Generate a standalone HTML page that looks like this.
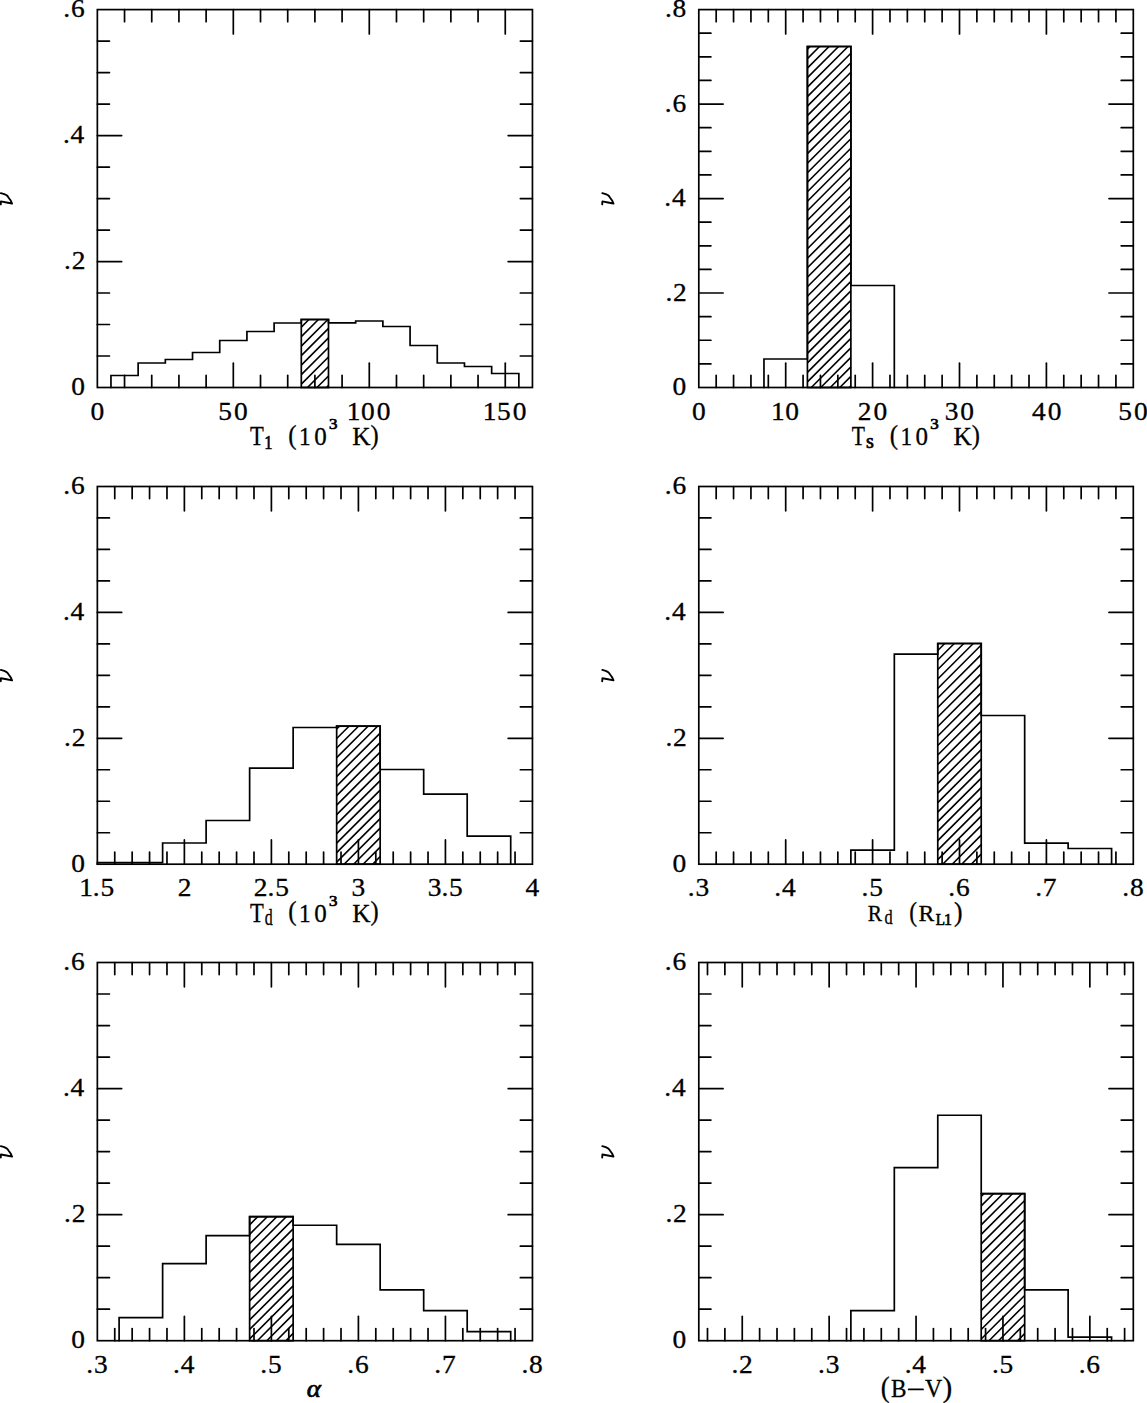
<!DOCTYPE html>
<html><head><meta charset="utf-8"><style>
html,body{margin:0;padding:0;background:#fff;overflow:hidden;width:1147px;height:1403px;}
svg{display:block;}
text{font-family:"Liberation Serif",serif;fill:#000;}
</style></head><body>
<svg width="1147" height="1403" viewBox="0 0 1147 1403">
<rect width="1147" height="1403" fill="#fff"/>
<g stroke="#000" fill="#000" stroke-linecap="round">
<line x1="124.54" y1="387.50" x2="124.54" y2="375.40" stroke-width="1.7"/>
<line x1="124.54" y1="9.60" x2="124.54" y2="21.70" stroke-width="1.7"/>
<line x1="151.74" y1="387.50" x2="151.74" y2="375.40" stroke-width="1.7"/>
<line x1="151.74" y1="9.60" x2="151.74" y2="21.70" stroke-width="1.7"/>
<line x1="178.93" y1="387.50" x2="178.93" y2="375.40" stroke-width="1.7"/>
<line x1="178.93" y1="9.60" x2="178.93" y2="21.70" stroke-width="1.7"/>
<line x1="206.12" y1="387.50" x2="206.12" y2="375.40" stroke-width="1.7"/>
<line x1="206.12" y1="9.60" x2="206.12" y2="21.70" stroke-width="1.7"/>
<line x1="233.32" y1="387.50" x2="233.32" y2="363.20" stroke-width="1.7"/>
<line x1="233.32" y1="9.60" x2="233.32" y2="33.90" stroke-width="1.7"/>
<line x1="260.51" y1="387.50" x2="260.51" y2="375.40" stroke-width="1.7"/>
<line x1="260.51" y1="9.60" x2="260.51" y2="21.70" stroke-width="1.7"/>
<line x1="287.71" y1="387.50" x2="287.71" y2="375.40" stroke-width="1.7"/>
<line x1="287.71" y1="9.60" x2="287.71" y2="21.70" stroke-width="1.7"/>
<line x1="314.90" y1="387.50" x2="314.90" y2="375.40" stroke-width="1.7"/>
<line x1="314.90" y1="9.60" x2="314.90" y2="21.70" stroke-width="1.7"/>
<line x1="342.09" y1="387.50" x2="342.09" y2="375.40" stroke-width="1.7"/>
<line x1="342.09" y1="9.60" x2="342.09" y2="21.70" stroke-width="1.7"/>
<line x1="369.29" y1="387.50" x2="369.29" y2="363.20" stroke-width="1.7"/>
<line x1="369.29" y1="9.60" x2="369.29" y2="33.90" stroke-width="1.7"/>
<line x1="396.48" y1="387.50" x2="396.48" y2="375.40" stroke-width="1.7"/>
<line x1="396.48" y1="9.60" x2="396.48" y2="21.70" stroke-width="1.7"/>
<line x1="423.68" y1="387.50" x2="423.68" y2="375.40" stroke-width="1.7"/>
<line x1="423.68" y1="9.60" x2="423.68" y2="21.70" stroke-width="1.7"/>
<line x1="450.87" y1="387.50" x2="450.87" y2="375.40" stroke-width="1.7"/>
<line x1="450.87" y1="9.60" x2="450.87" y2="21.70" stroke-width="1.7"/>
<line x1="478.06" y1="387.50" x2="478.06" y2="375.40" stroke-width="1.7"/>
<line x1="478.06" y1="9.60" x2="478.06" y2="21.70" stroke-width="1.7"/>
<line x1="505.26" y1="387.50" x2="505.26" y2="363.20" stroke-width="1.7"/>
<line x1="505.26" y1="9.60" x2="505.26" y2="33.90" stroke-width="1.7"/>
<line x1="97.35" y1="356.01" x2="109.45" y2="356.01" stroke-width="1.7"/>
<line x1="532.45" y1="356.01" x2="520.35" y2="356.01" stroke-width="1.7"/>
<line x1="97.35" y1="324.52" x2="109.45" y2="324.52" stroke-width="1.7"/>
<line x1="532.45" y1="324.52" x2="520.35" y2="324.52" stroke-width="1.7"/>
<line x1="97.35" y1="293.02" x2="109.45" y2="293.02" stroke-width="1.7"/>
<line x1="532.45" y1="293.02" x2="520.35" y2="293.02" stroke-width="1.7"/>
<line x1="97.35" y1="261.53" x2="121.65" y2="261.53" stroke-width="1.7"/>
<line x1="532.45" y1="261.53" x2="508.15" y2="261.53" stroke-width="1.7"/>
<line x1="97.35" y1="230.04" x2="109.45" y2="230.04" stroke-width="1.7"/>
<line x1="532.45" y1="230.04" x2="520.35" y2="230.04" stroke-width="1.7"/>
<line x1="97.35" y1="198.55" x2="109.45" y2="198.55" stroke-width="1.7"/>
<line x1="532.45" y1="198.55" x2="520.35" y2="198.55" stroke-width="1.7"/>
<line x1="97.35" y1="167.06" x2="109.45" y2="167.06" stroke-width="1.7"/>
<line x1="532.45" y1="167.06" x2="520.35" y2="167.06" stroke-width="1.7"/>
<line x1="97.35" y1="135.57" x2="121.65" y2="135.57" stroke-width="1.7"/>
<line x1="532.45" y1="135.57" x2="508.15" y2="135.57" stroke-width="1.7"/>
<line x1="97.35" y1="104.08" x2="109.45" y2="104.08" stroke-width="1.7"/>
<line x1="532.45" y1="104.08" x2="520.35" y2="104.08" stroke-width="1.7"/>
<line x1="97.35" y1="72.58" x2="109.45" y2="72.58" stroke-width="1.7"/>
<line x1="532.45" y1="72.58" x2="520.35" y2="72.58" stroke-width="1.7"/>
<line x1="97.35" y1="41.09" x2="109.45" y2="41.09" stroke-width="1.7"/>
<line x1="532.45" y1="41.09" x2="520.35" y2="41.09" stroke-width="1.7"/>
<path d="M110.95,387.50 L110.95,375.50 L138.14,375.50 L138.14,363.00 L165.33,363.00 L165.33,359.50 L192.53,359.50 L192.53,352.50 L219.72,352.50 L219.72,340.50 L246.92,340.50 L246.92,331.50 L274.11,331.50 L274.11,323.00 L301.30,323.00 L301.30,319.50 L328.50,319.50 L328.50,322.95 L355.69,322.95 L355.69,321.00 L382.88,321.00 L382.88,326.50 L410.08,326.50 L410.08,345.50 L437.27,345.50 L437.27,363.00 L464.47,363.00 L464.47,366.50 L491.66,366.50 L491.66,373.50 L518.85,373.50 L518.85,387.50" fill="none" stroke-width="1.7" stroke-linejoin="miter"/>
<path d="M301.30,327.11L308.92,319.50M301.30,336.62L318.42,319.50M301.30,346.12L327.93,319.50M301.30,355.63L328.50,328.44M301.30,365.14L328.50,337.94M301.30,374.64L328.50,347.45M301.30,384.15L328.50,356.96M307.46,387.50L328.50,366.46M316.96,387.50L328.50,375.97M326.47,387.50L328.50,385.47" stroke-width="1.6" stroke-linecap="butt"/>
<rect x="301.30" y="319.50" width="27.19" height="68.00" fill="none" stroke-width="1.7"/>
<rect x="97.35" y="9.60" width="435.10" height="377.90" fill="none" stroke-width="1.7"/>
<text transform="translate(90.49,419.70) scale(1.12,1)" font-size="24.5" stroke-width="0.3">0</text>
<text transform="translate(218.32,419.70) scale(1.12,1)" font-size="24.5" stroke-width="0.3" dx="0.00 1.79">50</text>
<text transform="translate(346.72,419.70) scale(1.12,1)" font-size="24.5" stroke-width="0.3" dx="0.00 0.54 1.79">100</text>
<text transform="translate(482.69,419.70) scale(1.12,1)" font-size="24.5" stroke-width="0.3" dx="0.00 0.54 1.79">150</text>
<text transform="translate(71.17,395.00) scale(1.12,1)" font-size="24.5" stroke-width="0.3">0</text>
<text transform="translate(63.98,269.03) scale(1.12,1)" font-size="24.5" stroke-width="0.3" dx="0.00 0.71">.2</text>
<text transform="translate(62.91,143.07) scale(1.12,1)" font-size="24.5" stroke-width="0.3" dx="0.00 0.71">.4</text>
<text transform="translate(63.29,17.10) scale(1.12,1)" font-size="24.5" stroke-width="0.3" dx="0.00 0.71">.6</text>
<line x1="716.18" y1="387.50" x2="716.18" y2="375.40" stroke-width="1.7"/>
<line x1="716.18" y1="9.60" x2="716.18" y2="21.70" stroke-width="1.7"/>
<line x1="733.56" y1="387.50" x2="733.56" y2="375.40" stroke-width="1.7"/>
<line x1="733.56" y1="9.60" x2="733.56" y2="21.70" stroke-width="1.7"/>
<line x1="750.94" y1="387.50" x2="750.94" y2="375.40" stroke-width="1.7"/>
<line x1="750.94" y1="9.60" x2="750.94" y2="21.70" stroke-width="1.7"/>
<line x1="768.32" y1="387.50" x2="768.32" y2="375.40" stroke-width="1.7"/>
<line x1="768.32" y1="9.60" x2="768.32" y2="21.70" stroke-width="1.7"/>
<line x1="785.70" y1="387.50" x2="785.70" y2="363.20" stroke-width="1.7"/>
<line x1="785.70" y1="9.60" x2="785.70" y2="33.90" stroke-width="1.7"/>
<line x1="803.08" y1="387.50" x2="803.08" y2="375.40" stroke-width="1.7"/>
<line x1="803.08" y1="9.60" x2="803.08" y2="21.70" stroke-width="1.7"/>
<line x1="820.46" y1="387.50" x2="820.46" y2="375.40" stroke-width="1.7"/>
<line x1="820.46" y1="9.60" x2="820.46" y2="21.70" stroke-width="1.7"/>
<line x1="837.84" y1="387.50" x2="837.84" y2="375.40" stroke-width="1.7"/>
<line x1="837.84" y1="9.60" x2="837.84" y2="21.70" stroke-width="1.7"/>
<line x1="855.22" y1="387.50" x2="855.22" y2="375.40" stroke-width="1.7"/>
<line x1="855.22" y1="9.60" x2="855.22" y2="21.70" stroke-width="1.7"/>
<line x1="872.60" y1="387.50" x2="872.60" y2="363.20" stroke-width="1.7"/>
<line x1="872.60" y1="9.60" x2="872.60" y2="33.90" stroke-width="1.7"/>
<line x1="889.98" y1="387.50" x2="889.98" y2="375.40" stroke-width="1.7"/>
<line x1="889.98" y1="9.60" x2="889.98" y2="21.70" stroke-width="1.7"/>
<line x1="907.36" y1="387.50" x2="907.36" y2="375.40" stroke-width="1.7"/>
<line x1="907.36" y1="9.60" x2="907.36" y2="21.70" stroke-width="1.7"/>
<line x1="924.74" y1="387.50" x2="924.74" y2="375.40" stroke-width="1.7"/>
<line x1="924.74" y1="9.60" x2="924.74" y2="21.70" stroke-width="1.7"/>
<line x1="942.12" y1="387.50" x2="942.12" y2="375.40" stroke-width="1.7"/>
<line x1="942.12" y1="9.60" x2="942.12" y2="21.70" stroke-width="1.7"/>
<line x1="959.50" y1="387.50" x2="959.50" y2="363.20" stroke-width="1.7"/>
<line x1="959.50" y1="9.60" x2="959.50" y2="33.90" stroke-width="1.7"/>
<line x1="976.88" y1="387.50" x2="976.88" y2="375.40" stroke-width="1.7"/>
<line x1="976.88" y1="9.60" x2="976.88" y2="21.70" stroke-width="1.7"/>
<line x1="994.26" y1="387.50" x2="994.26" y2="375.40" stroke-width="1.7"/>
<line x1="994.26" y1="9.60" x2="994.26" y2="21.70" stroke-width="1.7"/>
<line x1="1011.64" y1="387.50" x2="1011.64" y2="375.40" stroke-width="1.7"/>
<line x1="1011.64" y1="9.60" x2="1011.64" y2="21.70" stroke-width="1.7"/>
<line x1="1029.02" y1="387.50" x2="1029.02" y2="375.40" stroke-width="1.7"/>
<line x1="1029.02" y1="9.60" x2="1029.02" y2="21.70" stroke-width="1.7"/>
<line x1="1046.40" y1="387.50" x2="1046.40" y2="363.20" stroke-width="1.7"/>
<line x1="1046.40" y1="9.60" x2="1046.40" y2="33.90" stroke-width="1.7"/>
<line x1="1063.78" y1="387.50" x2="1063.78" y2="375.40" stroke-width="1.7"/>
<line x1="1063.78" y1="9.60" x2="1063.78" y2="21.70" stroke-width="1.7"/>
<line x1="1081.16" y1="387.50" x2="1081.16" y2="375.40" stroke-width="1.7"/>
<line x1="1081.16" y1="9.60" x2="1081.16" y2="21.70" stroke-width="1.7"/>
<line x1="1098.54" y1="387.50" x2="1098.54" y2="375.40" stroke-width="1.7"/>
<line x1="1098.54" y1="9.60" x2="1098.54" y2="21.70" stroke-width="1.7"/>
<line x1="1115.92" y1="387.50" x2="1115.92" y2="375.40" stroke-width="1.7"/>
<line x1="1115.92" y1="9.60" x2="1115.92" y2="21.70" stroke-width="1.7"/>
<line x1="698.80" y1="363.88" x2="710.90" y2="363.88" stroke-width="1.7"/>
<line x1="1133.30" y1="363.88" x2="1121.20" y2="363.88" stroke-width="1.7"/>
<line x1="698.80" y1="340.26" x2="710.90" y2="340.26" stroke-width="1.7"/>
<line x1="1133.30" y1="340.26" x2="1121.20" y2="340.26" stroke-width="1.7"/>
<line x1="698.80" y1="316.64" x2="710.90" y2="316.64" stroke-width="1.7"/>
<line x1="1133.30" y1="316.64" x2="1121.20" y2="316.64" stroke-width="1.7"/>
<line x1="698.80" y1="293.02" x2="723.10" y2="293.02" stroke-width="1.7"/>
<line x1="1133.30" y1="293.02" x2="1109.00" y2="293.02" stroke-width="1.7"/>
<line x1="698.80" y1="269.41" x2="710.90" y2="269.41" stroke-width="1.7"/>
<line x1="1133.30" y1="269.41" x2="1121.20" y2="269.41" stroke-width="1.7"/>
<line x1="698.80" y1="245.79" x2="710.90" y2="245.79" stroke-width="1.7"/>
<line x1="1133.30" y1="245.79" x2="1121.20" y2="245.79" stroke-width="1.7"/>
<line x1="698.80" y1="222.17" x2="710.90" y2="222.17" stroke-width="1.7"/>
<line x1="1133.30" y1="222.17" x2="1121.20" y2="222.17" stroke-width="1.7"/>
<line x1="698.80" y1="198.55" x2="723.10" y2="198.55" stroke-width="1.7"/>
<line x1="1133.30" y1="198.55" x2="1109.00" y2="198.55" stroke-width="1.7"/>
<line x1="698.80" y1="174.93" x2="710.90" y2="174.93" stroke-width="1.7"/>
<line x1="1133.30" y1="174.93" x2="1121.20" y2="174.93" stroke-width="1.7"/>
<line x1="698.80" y1="151.31" x2="710.90" y2="151.31" stroke-width="1.7"/>
<line x1="1133.30" y1="151.31" x2="1121.20" y2="151.31" stroke-width="1.7"/>
<line x1="698.80" y1="127.69" x2="710.90" y2="127.69" stroke-width="1.7"/>
<line x1="1133.30" y1="127.69" x2="1121.20" y2="127.69" stroke-width="1.7"/>
<line x1="698.80" y1="104.07" x2="723.10" y2="104.07" stroke-width="1.7"/>
<line x1="1133.30" y1="104.07" x2="1109.00" y2="104.07" stroke-width="1.7"/>
<line x1="698.80" y1="80.46" x2="710.90" y2="80.46" stroke-width="1.7"/>
<line x1="1133.30" y1="80.46" x2="1121.20" y2="80.46" stroke-width="1.7"/>
<line x1="698.80" y1="56.84" x2="710.90" y2="56.84" stroke-width="1.7"/>
<line x1="1133.30" y1="56.84" x2="1121.20" y2="56.84" stroke-width="1.7"/>
<line x1="698.80" y1="33.22" x2="710.90" y2="33.22" stroke-width="1.7"/>
<line x1="1133.30" y1="33.22" x2="1121.20" y2="33.22" stroke-width="1.7"/>
<path d="M763.97,387.50 L763.97,359.00 L807.42,359.00 L807.42,46.50 L850.88,46.50 L850.88,285.50 L894.32,285.50 L894.32,387.50" fill="none" stroke-width="1.7" stroke-linejoin="miter"/>
<path d="M807.42,49.12L810.05,46.50M807.42,58.63L819.56,46.50M807.42,68.14L829.06,46.50M807.42,77.64L838.57,46.50M807.42,87.15L848.07,46.50M807.42,96.66L850.88,53.21M807.42,106.16L850.88,62.71M807.42,115.67L850.88,72.22M807.42,125.17L850.88,81.72M807.42,134.68L850.88,91.23M807.42,144.19L850.88,100.74M807.42,153.69L850.88,110.24M807.42,163.20L850.88,119.75M807.42,172.70L850.88,129.25M807.42,182.21L850.88,138.76M807.42,191.72L850.88,148.26M807.42,201.22L850.88,157.77M807.42,210.73L850.88,167.28M807.42,220.23L850.88,176.78M807.42,229.74L850.88,186.29M807.42,239.25L850.88,195.80M807.42,248.75L850.88,205.30M807.42,258.26L850.88,214.81M807.42,267.76L850.88,224.31M807.42,277.27L850.88,233.82M807.42,286.78L850.88,243.33M807.42,296.28L850.88,252.83M807.42,305.79L850.88,262.34M807.42,315.29L850.88,271.84M807.42,324.80L850.88,281.35M807.42,334.31L850.88,290.86M807.42,343.81L850.88,300.36M807.42,353.32L850.88,309.87M807.42,362.82L850.88,319.37M807.42,372.33L850.88,328.88M807.42,381.84L850.88,338.38M811.27,387.50L850.88,347.89M820.77,387.50L850.88,357.40M830.28,387.50L850.88,366.90M839.78,387.50L850.88,376.41M849.29,387.50L850.88,385.91" stroke-width="1.6" stroke-linecap="butt"/>
<rect x="807.42" y="46.50" width="43.45" height="341.00" fill="none" stroke-width="1.7"/>
<rect x="698.80" y="9.60" width="434.50" height="377.90" fill="none" stroke-width="1.7"/>
<text transform="translate(691.94,419.70) scale(1.12,1)" font-size="24.5" stroke-width="0.3">0</text>
<text transform="translate(770.99,419.70) scale(1.12,1)" font-size="24.5" stroke-width="0.3" dx="0.00 0.54">10</text>
<text transform="translate(857.80,419.70) scale(1.12,1)" font-size="24.5" stroke-width="0.3" dx="0.00 1.79">20</text>
<text transform="translate(944.64,419.70) scale(1.12,1)" font-size="24.5" stroke-width="0.3" dx="0.00 1.79">30</text>
<text transform="translate(1031.93,419.70) scale(1.12,1)" font-size="24.5" stroke-width="0.3" dx="0.00 1.79">40</text>
<text transform="translate(1118.31,419.70) scale(1.12,1)" font-size="24.5" stroke-width="0.3" dx="0.00 1.79">50</text>
<text transform="translate(672.62,395.00) scale(1.12,1)" font-size="24.5" stroke-width="0.3">0</text>
<text transform="translate(665.43,300.52) scale(1.12,1)" font-size="24.5" stroke-width="0.3" dx="0.00 0.71">.2</text>
<text transform="translate(664.36,206.05) scale(1.12,1)" font-size="24.5" stroke-width="0.3" dx="0.00 0.71">.4</text>
<text transform="translate(664.74,111.58) scale(1.12,1)" font-size="24.5" stroke-width="0.3" dx="0.00 0.71">.6</text>
<text transform="translate(664.96,17.10) scale(1.12,1)" font-size="24.5" stroke-width="0.3" dx="0.00 0.71">.8</text>
<line x1="114.75" y1="864.20" x2="114.75" y2="852.10" stroke-width="1.7"/>
<line x1="114.75" y1="486.50" x2="114.75" y2="498.60" stroke-width="1.7"/>
<line x1="132.16" y1="864.20" x2="132.16" y2="852.10" stroke-width="1.7"/>
<line x1="132.16" y1="486.50" x2="132.16" y2="498.60" stroke-width="1.7"/>
<line x1="149.56" y1="864.20" x2="149.56" y2="852.10" stroke-width="1.7"/>
<line x1="149.56" y1="486.50" x2="149.56" y2="498.60" stroke-width="1.7"/>
<line x1="166.97" y1="864.20" x2="166.97" y2="852.10" stroke-width="1.7"/>
<line x1="166.97" y1="486.50" x2="166.97" y2="498.60" stroke-width="1.7"/>
<line x1="184.37" y1="864.20" x2="184.37" y2="839.90" stroke-width="1.7"/>
<line x1="184.37" y1="486.50" x2="184.37" y2="510.80" stroke-width="1.7"/>
<line x1="201.77" y1="864.20" x2="201.77" y2="852.10" stroke-width="1.7"/>
<line x1="201.77" y1="486.50" x2="201.77" y2="498.60" stroke-width="1.7"/>
<line x1="219.18" y1="864.20" x2="219.18" y2="852.10" stroke-width="1.7"/>
<line x1="219.18" y1="486.50" x2="219.18" y2="498.60" stroke-width="1.7"/>
<line x1="236.58" y1="864.20" x2="236.58" y2="852.10" stroke-width="1.7"/>
<line x1="236.58" y1="486.50" x2="236.58" y2="498.60" stroke-width="1.7"/>
<line x1="253.99" y1="864.20" x2="253.99" y2="852.10" stroke-width="1.7"/>
<line x1="253.99" y1="486.50" x2="253.99" y2="498.60" stroke-width="1.7"/>
<line x1="271.39" y1="864.20" x2="271.39" y2="839.90" stroke-width="1.7"/>
<line x1="271.39" y1="486.50" x2="271.39" y2="510.80" stroke-width="1.7"/>
<line x1="288.79" y1="864.20" x2="288.79" y2="852.10" stroke-width="1.7"/>
<line x1="288.79" y1="486.50" x2="288.79" y2="498.60" stroke-width="1.7"/>
<line x1="306.20" y1="864.20" x2="306.20" y2="852.10" stroke-width="1.7"/>
<line x1="306.20" y1="486.50" x2="306.20" y2="498.60" stroke-width="1.7"/>
<line x1="323.60" y1="864.20" x2="323.60" y2="852.10" stroke-width="1.7"/>
<line x1="323.60" y1="486.50" x2="323.60" y2="498.60" stroke-width="1.7"/>
<line x1="341.01" y1="864.20" x2="341.01" y2="852.10" stroke-width="1.7"/>
<line x1="341.01" y1="486.50" x2="341.01" y2="498.60" stroke-width="1.7"/>
<line x1="358.41" y1="864.20" x2="358.41" y2="839.90" stroke-width="1.7"/>
<line x1="358.41" y1="486.50" x2="358.41" y2="510.80" stroke-width="1.7"/>
<line x1="375.81" y1="864.20" x2="375.81" y2="852.10" stroke-width="1.7"/>
<line x1="375.81" y1="486.50" x2="375.81" y2="498.60" stroke-width="1.7"/>
<line x1="393.22" y1="864.20" x2="393.22" y2="852.10" stroke-width="1.7"/>
<line x1="393.22" y1="486.50" x2="393.22" y2="498.60" stroke-width="1.7"/>
<line x1="410.62" y1="864.20" x2="410.62" y2="852.10" stroke-width="1.7"/>
<line x1="410.62" y1="486.50" x2="410.62" y2="498.60" stroke-width="1.7"/>
<line x1="428.03" y1="864.20" x2="428.03" y2="852.10" stroke-width="1.7"/>
<line x1="428.03" y1="486.50" x2="428.03" y2="498.60" stroke-width="1.7"/>
<line x1="445.43" y1="864.20" x2="445.43" y2="839.90" stroke-width="1.7"/>
<line x1="445.43" y1="486.50" x2="445.43" y2="510.80" stroke-width="1.7"/>
<line x1="462.83" y1="864.20" x2="462.83" y2="852.10" stroke-width="1.7"/>
<line x1="462.83" y1="486.50" x2="462.83" y2="498.60" stroke-width="1.7"/>
<line x1="480.24" y1="864.20" x2="480.24" y2="852.10" stroke-width="1.7"/>
<line x1="480.24" y1="486.50" x2="480.24" y2="498.60" stroke-width="1.7"/>
<line x1="497.64" y1="864.20" x2="497.64" y2="852.10" stroke-width="1.7"/>
<line x1="497.64" y1="486.50" x2="497.64" y2="498.60" stroke-width="1.7"/>
<line x1="515.05" y1="864.20" x2="515.05" y2="852.10" stroke-width="1.7"/>
<line x1="515.05" y1="486.50" x2="515.05" y2="498.60" stroke-width="1.7"/>
<line x1="97.35" y1="832.73" x2="109.45" y2="832.73" stroke-width="1.7"/>
<line x1="532.45" y1="832.73" x2="520.35" y2="832.73" stroke-width="1.7"/>
<line x1="97.35" y1="801.25" x2="109.45" y2="801.25" stroke-width="1.7"/>
<line x1="532.45" y1="801.25" x2="520.35" y2="801.25" stroke-width="1.7"/>
<line x1="97.35" y1="769.77" x2="109.45" y2="769.77" stroke-width="1.7"/>
<line x1="532.45" y1="769.77" x2="520.35" y2="769.77" stroke-width="1.7"/>
<line x1="97.35" y1="738.30" x2="121.65" y2="738.30" stroke-width="1.7"/>
<line x1="532.45" y1="738.30" x2="508.15" y2="738.30" stroke-width="1.7"/>
<line x1="97.35" y1="706.83" x2="109.45" y2="706.83" stroke-width="1.7"/>
<line x1="532.45" y1="706.83" x2="520.35" y2="706.83" stroke-width="1.7"/>
<line x1="97.35" y1="675.35" x2="109.45" y2="675.35" stroke-width="1.7"/>
<line x1="532.45" y1="675.35" x2="520.35" y2="675.35" stroke-width="1.7"/>
<line x1="97.35" y1="643.88" x2="109.45" y2="643.88" stroke-width="1.7"/>
<line x1="532.45" y1="643.88" x2="520.35" y2="643.88" stroke-width="1.7"/>
<line x1="97.35" y1="612.40" x2="121.65" y2="612.40" stroke-width="1.7"/>
<line x1="532.45" y1="612.40" x2="508.15" y2="612.40" stroke-width="1.7"/>
<line x1="97.35" y1="580.92" x2="109.45" y2="580.92" stroke-width="1.7"/>
<line x1="532.45" y1="580.92" x2="520.35" y2="580.92" stroke-width="1.7"/>
<line x1="97.35" y1="549.45" x2="109.45" y2="549.45" stroke-width="1.7"/>
<line x1="532.45" y1="549.45" x2="520.35" y2="549.45" stroke-width="1.7"/>
<line x1="97.35" y1="517.97" x2="109.45" y2="517.97" stroke-width="1.7"/>
<line x1="532.45" y1="517.97" x2="520.35" y2="517.97" stroke-width="1.7"/>
<path d="M97.35,864.20 L97.35,862.65 L162.62,862.65 L162.62,843.00 L206.12,843.00 L206.12,820.50 L249.63,820.50 L249.63,768.10 L293.14,768.10 L293.14,727.50 L336.66,727.50 L336.66,726.20 L380.16,726.20 L380.16,769.50 L423.68,769.50 L423.68,794.10 L467.19,794.10 L467.19,836.20 L510.70,836.20 L510.70,864.20" fill="none" stroke-width="1.7" stroke-linejoin="miter"/>
<path d="M336.66,729.04L339.49,726.20M336.66,738.54L349.00,726.20M336.66,748.05L358.50,726.20M336.66,757.56L368.01,726.20M336.66,767.06L377.52,726.20M336.66,776.57L380.16,733.06M336.66,786.07L380.16,742.56M336.66,795.58L380.16,752.07M336.66,805.09L380.16,761.58M336.66,814.59L380.16,771.08M336.66,824.10L380.16,780.59M336.66,833.60L380.16,790.09M336.66,843.11L380.16,799.60M336.66,852.62L380.16,809.11M336.66,862.12L380.16,818.61M344.08,864.20L380.16,828.12M353.59,864.20L380.16,837.62M363.09,864.20L380.16,847.13M372.60,864.20L380.16,856.63" stroke-width="1.6" stroke-linecap="butt"/>
<rect x="336.66" y="726.20" width="43.51" height="138.00" fill="none" stroke-width="1.7"/>
<rect x="97.35" y="486.50" width="435.10" height="377.70" fill="none" stroke-width="1.7"/>
<text transform="translate(79.13,896.40) scale(1.12,1)" font-size="24.5" stroke-width="0.3" dx="0.00 0.00 0.71">1.5</text>
<text transform="translate(177.66,896.40) scale(1.12,1)" font-size="24.5" stroke-width="0.3">2</text>
<text transform="translate(253.77,896.40) scale(1.12,1)" font-size="24.5" stroke-width="0.3" dx="0.00 0.00 0.71">2.5</text>
<text transform="translate(351.43,896.40) scale(1.12,1)" font-size="24.5" stroke-width="0.3">3</text>
<text transform="translate(427.76,896.40) scale(1.12,1)" font-size="24.5" stroke-width="0.3" dx="0.00 0.00 0.71">3.5</text>
<text transform="translate(525.54,896.40) scale(1.12,1)" font-size="24.5" stroke-width="0.3">4</text>
<text transform="translate(71.17,871.70) scale(1.12,1)" font-size="24.5" stroke-width="0.3">0</text>
<text transform="translate(63.98,745.80) scale(1.12,1)" font-size="24.5" stroke-width="0.3" dx="0.00 0.71">.2</text>
<text transform="translate(62.91,619.90) scale(1.12,1)" font-size="24.5" stroke-width="0.3" dx="0.00 0.71">.4</text>
<text transform="translate(63.29,494.00) scale(1.12,1)" font-size="24.5" stroke-width="0.3" dx="0.00 0.71">.6</text>
<line x1="716.18" y1="864.20" x2="716.18" y2="852.10" stroke-width="1.7"/>
<line x1="716.18" y1="486.50" x2="716.18" y2="498.60" stroke-width="1.7"/>
<line x1="733.56" y1="864.20" x2="733.56" y2="852.10" stroke-width="1.7"/>
<line x1="733.56" y1="486.50" x2="733.56" y2="498.60" stroke-width="1.7"/>
<line x1="750.94" y1="864.20" x2="750.94" y2="852.10" stroke-width="1.7"/>
<line x1="750.94" y1="486.50" x2="750.94" y2="498.60" stroke-width="1.7"/>
<line x1="768.32" y1="864.20" x2="768.32" y2="852.10" stroke-width="1.7"/>
<line x1="768.32" y1="486.50" x2="768.32" y2="498.60" stroke-width="1.7"/>
<line x1="785.70" y1="864.20" x2="785.70" y2="839.90" stroke-width="1.7"/>
<line x1="785.70" y1="486.50" x2="785.70" y2="510.80" stroke-width="1.7"/>
<line x1="803.08" y1="864.20" x2="803.08" y2="852.10" stroke-width="1.7"/>
<line x1="803.08" y1="486.50" x2="803.08" y2="498.60" stroke-width="1.7"/>
<line x1="820.46" y1="864.20" x2="820.46" y2="852.10" stroke-width="1.7"/>
<line x1="820.46" y1="486.50" x2="820.46" y2="498.60" stroke-width="1.7"/>
<line x1="837.84" y1="864.20" x2="837.84" y2="852.10" stroke-width="1.7"/>
<line x1="837.84" y1="486.50" x2="837.84" y2="498.60" stroke-width="1.7"/>
<line x1="855.22" y1="864.20" x2="855.22" y2="852.10" stroke-width="1.7"/>
<line x1="855.22" y1="486.50" x2="855.22" y2="498.60" stroke-width="1.7"/>
<line x1="872.60" y1="864.20" x2="872.60" y2="839.90" stroke-width="1.7"/>
<line x1="872.60" y1="486.50" x2="872.60" y2="510.80" stroke-width="1.7"/>
<line x1="889.98" y1="864.20" x2="889.98" y2="852.10" stroke-width="1.7"/>
<line x1="889.98" y1="486.50" x2="889.98" y2="498.60" stroke-width="1.7"/>
<line x1="907.36" y1="864.20" x2="907.36" y2="852.10" stroke-width="1.7"/>
<line x1="907.36" y1="486.50" x2="907.36" y2="498.60" stroke-width="1.7"/>
<line x1="924.74" y1="864.20" x2="924.74" y2="852.10" stroke-width="1.7"/>
<line x1="924.74" y1="486.50" x2="924.74" y2="498.60" stroke-width="1.7"/>
<line x1="942.12" y1="864.20" x2="942.12" y2="852.10" stroke-width="1.7"/>
<line x1="942.12" y1="486.50" x2="942.12" y2="498.60" stroke-width="1.7"/>
<line x1="959.50" y1="864.20" x2="959.50" y2="839.90" stroke-width="1.7"/>
<line x1="959.50" y1="486.50" x2="959.50" y2="510.80" stroke-width="1.7"/>
<line x1="976.88" y1="864.20" x2="976.88" y2="852.10" stroke-width="1.7"/>
<line x1="976.88" y1="486.50" x2="976.88" y2="498.60" stroke-width="1.7"/>
<line x1="994.26" y1="864.20" x2="994.26" y2="852.10" stroke-width="1.7"/>
<line x1="994.26" y1="486.50" x2="994.26" y2="498.60" stroke-width="1.7"/>
<line x1="1011.64" y1="864.20" x2="1011.64" y2="852.10" stroke-width="1.7"/>
<line x1="1011.64" y1="486.50" x2="1011.64" y2="498.60" stroke-width="1.7"/>
<line x1="1029.02" y1="864.20" x2="1029.02" y2="852.10" stroke-width="1.7"/>
<line x1="1029.02" y1="486.50" x2="1029.02" y2="498.60" stroke-width="1.7"/>
<line x1="1046.40" y1="864.20" x2="1046.40" y2="839.90" stroke-width="1.7"/>
<line x1="1046.40" y1="486.50" x2="1046.40" y2="510.80" stroke-width="1.7"/>
<line x1="1063.78" y1="864.20" x2="1063.78" y2="852.10" stroke-width="1.7"/>
<line x1="1063.78" y1="486.50" x2="1063.78" y2="498.60" stroke-width="1.7"/>
<line x1="1081.16" y1="864.20" x2="1081.16" y2="852.10" stroke-width="1.7"/>
<line x1="1081.16" y1="486.50" x2="1081.16" y2="498.60" stroke-width="1.7"/>
<line x1="1098.54" y1="864.20" x2="1098.54" y2="852.10" stroke-width="1.7"/>
<line x1="1098.54" y1="486.50" x2="1098.54" y2="498.60" stroke-width="1.7"/>
<line x1="1115.92" y1="864.20" x2="1115.92" y2="852.10" stroke-width="1.7"/>
<line x1="1115.92" y1="486.50" x2="1115.92" y2="498.60" stroke-width="1.7"/>
<line x1="698.80" y1="832.73" x2="710.90" y2="832.73" stroke-width="1.7"/>
<line x1="1133.30" y1="832.73" x2="1121.20" y2="832.73" stroke-width="1.7"/>
<line x1="698.80" y1="801.25" x2="710.90" y2="801.25" stroke-width="1.7"/>
<line x1="1133.30" y1="801.25" x2="1121.20" y2="801.25" stroke-width="1.7"/>
<line x1="698.80" y1="769.77" x2="710.90" y2="769.77" stroke-width="1.7"/>
<line x1="1133.30" y1="769.77" x2="1121.20" y2="769.77" stroke-width="1.7"/>
<line x1="698.80" y1="738.30" x2="723.10" y2="738.30" stroke-width="1.7"/>
<line x1="1133.30" y1="738.30" x2="1109.00" y2="738.30" stroke-width="1.7"/>
<line x1="698.80" y1="706.83" x2="710.90" y2="706.83" stroke-width="1.7"/>
<line x1="1133.30" y1="706.83" x2="1121.20" y2="706.83" stroke-width="1.7"/>
<line x1="698.80" y1="675.35" x2="710.90" y2="675.35" stroke-width="1.7"/>
<line x1="1133.30" y1="675.35" x2="1121.20" y2="675.35" stroke-width="1.7"/>
<line x1="698.80" y1="643.88" x2="710.90" y2="643.88" stroke-width="1.7"/>
<line x1="1133.30" y1="643.88" x2="1121.20" y2="643.88" stroke-width="1.7"/>
<line x1="698.80" y1="612.40" x2="723.10" y2="612.40" stroke-width="1.7"/>
<line x1="1133.30" y1="612.40" x2="1109.00" y2="612.40" stroke-width="1.7"/>
<line x1="698.80" y1="580.92" x2="710.90" y2="580.92" stroke-width="1.7"/>
<line x1="1133.30" y1="580.92" x2="1121.20" y2="580.92" stroke-width="1.7"/>
<line x1="698.80" y1="549.45" x2="710.90" y2="549.45" stroke-width="1.7"/>
<line x1="1133.30" y1="549.45" x2="1121.20" y2="549.45" stroke-width="1.7"/>
<line x1="698.80" y1="517.97" x2="710.90" y2="517.97" stroke-width="1.7"/>
<line x1="1133.30" y1="517.97" x2="1121.20" y2="517.97" stroke-width="1.7"/>
<path d="M850.88,864.20 L850.88,850.10 L894.33,850.10 L894.33,654.10 L937.77,654.10 L937.77,643.50 L981.22,643.50 L981.22,715.50 L1024.67,715.50 L1024.67,843.10 L1068.12,843.10 L1068.12,848.50 L1111.58,848.50 L1111.58,864.20" fill="none" stroke-width="1.7" stroke-linejoin="miter"/>
<path d="M937.77,650.48L944.75,643.50M937.77,659.98L954.26,643.50M937.77,669.49L963.76,643.50M937.77,679.00L973.27,643.50M937.77,688.50L981.22,645.05M937.77,698.01L981.22,654.56M937.77,707.51L981.22,664.06M937.77,717.02L981.22,673.57M937.77,726.53L981.22,683.08M937.77,736.03L981.22,692.58M937.77,745.54L981.22,702.09M937.77,755.04L981.22,711.59M937.77,764.55L981.22,721.10M937.77,774.06L981.22,730.61M937.77,783.56L981.22,740.11M937.77,793.07L981.22,749.62M937.77,802.57L981.22,759.12M937.77,812.08L981.22,768.63M937.77,821.59L981.22,778.14M937.77,831.09L981.22,787.64M937.77,840.60L981.22,797.15M937.77,850.10L981.22,806.65M937.77,859.61L981.22,816.16M942.69,864.20L981.22,825.67M952.20,864.20L981.22,835.17M961.70,864.20L981.22,844.68M971.21,864.20L981.22,854.18M980.71,864.20L981.22,863.69" stroke-width="1.6" stroke-linecap="butt"/>
<rect x="937.77" y="643.50" width="43.45" height="220.70" fill="none" stroke-width="1.7"/>
<rect x="698.80" y="486.50" width="434.50" height="377.70" fill="none" stroke-width="1.7"/>
<text transform="translate(687.74,896.40) scale(1.12,1)" font-size="24.5" stroke-width="0.3" dx="0.00 0.71">.3</text>
<text transform="translate(774.32,896.40) scale(1.12,1)" font-size="24.5" stroke-width="0.3" dx="0.00 0.71">.4</text>
<text transform="translate(861.54,896.40) scale(1.12,1)" font-size="24.5" stroke-width="0.3" dx="0.00 0.71">.5</text>
<text transform="translate(948.32,896.40) scale(1.12,1)" font-size="24.5" stroke-width="0.3" dx="0.00 0.71">.6</text>
<text transform="translate(1035.20,896.40) scale(1.12,1)" font-size="24.5" stroke-width="0.3" dx="0.00 0.71">.7</text>
<text transform="translate(1122.23,896.40) scale(1.12,1)" font-size="24.5" stroke-width="0.3" dx="0.00 0.71">.8</text>
<text transform="translate(672.62,871.70) scale(1.12,1)" font-size="24.5" stroke-width="0.3">0</text>
<text transform="translate(665.43,745.80) scale(1.12,1)" font-size="24.5" stroke-width="0.3" dx="0.00 0.71">.2</text>
<text transform="translate(664.36,619.90) scale(1.12,1)" font-size="24.5" stroke-width="0.3" dx="0.00 0.71">.4</text>
<text transform="translate(664.74,494.00) scale(1.12,1)" font-size="24.5" stroke-width="0.3" dx="0.00 0.71">.6</text>
<line x1="114.75" y1="1340.70" x2="114.75" y2="1328.60" stroke-width="1.7"/>
<line x1="114.75" y1="962.50" x2="114.75" y2="974.60" stroke-width="1.7"/>
<line x1="132.16" y1="1340.70" x2="132.16" y2="1328.60" stroke-width="1.7"/>
<line x1="132.16" y1="962.50" x2="132.16" y2="974.60" stroke-width="1.7"/>
<line x1="149.56" y1="1340.70" x2="149.56" y2="1328.60" stroke-width="1.7"/>
<line x1="149.56" y1="962.50" x2="149.56" y2="974.60" stroke-width="1.7"/>
<line x1="166.97" y1="1340.70" x2="166.97" y2="1328.60" stroke-width="1.7"/>
<line x1="166.97" y1="962.50" x2="166.97" y2="974.60" stroke-width="1.7"/>
<line x1="184.37" y1="1340.70" x2="184.37" y2="1316.40" stroke-width="1.7"/>
<line x1="184.37" y1="962.50" x2="184.37" y2="986.80" stroke-width="1.7"/>
<line x1="201.77" y1="1340.70" x2="201.77" y2="1328.60" stroke-width="1.7"/>
<line x1="201.77" y1="962.50" x2="201.77" y2="974.60" stroke-width="1.7"/>
<line x1="219.18" y1="1340.70" x2="219.18" y2="1328.60" stroke-width="1.7"/>
<line x1="219.18" y1="962.50" x2="219.18" y2="974.60" stroke-width="1.7"/>
<line x1="236.58" y1="1340.70" x2="236.58" y2="1328.60" stroke-width="1.7"/>
<line x1="236.58" y1="962.50" x2="236.58" y2="974.60" stroke-width="1.7"/>
<line x1="253.99" y1="1340.70" x2="253.99" y2="1328.60" stroke-width="1.7"/>
<line x1="253.99" y1="962.50" x2="253.99" y2="974.60" stroke-width="1.7"/>
<line x1="271.39" y1="1340.70" x2="271.39" y2="1316.40" stroke-width="1.7"/>
<line x1="271.39" y1="962.50" x2="271.39" y2="986.80" stroke-width="1.7"/>
<line x1="288.79" y1="1340.70" x2="288.79" y2="1328.60" stroke-width="1.7"/>
<line x1="288.79" y1="962.50" x2="288.79" y2="974.60" stroke-width="1.7"/>
<line x1="306.20" y1="1340.70" x2="306.20" y2="1328.60" stroke-width="1.7"/>
<line x1="306.20" y1="962.50" x2="306.20" y2="974.60" stroke-width="1.7"/>
<line x1="323.60" y1="1340.70" x2="323.60" y2="1328.60" stroke-width="1.7"/>
<line x1="323.60" y1="962.50" x2="323.60" y2="974.60" stroke-width="1.7"/>
<line x1="341.01" y1="1340.70" x2="341.01" y2="1328.60" stroke-width="1.7"/>
<line x1="341.01" y1="962.50" x2="341.01" y2="974.60" stroke-width="1.7"/>
<line x1="358.41" y1="1340.70" x2="358.41" y2="1316.40" stroke-width="1.7"/>
<line x1="358.41" y1="962.50" x2="358.41" y2="986.80" stroke-width="1.7"/>
<line x1="375.81" y1="1340.70" x2="375.81" y2="1328.60" stroke-width="1.7"/>
<line x1="375.81" y1="962.50" x2="375.81" y2="974.60" stroke-width="1.7"/>
<line x1="393.22" y1="1340.70" x2="393.22" y2="1328.60" stroke-width="1.7"/>
<line x1="393.22" y1="962.50" x2="393.22" y2="974.60" stroke-width="1.7"/>
<line x1="410.62" y1="1340.70" x2="410.62" y2="1328.60" stroke-width="1.7"/>
<line x1="410.62" y1="962.50" x2="410.62" y2="974.60" stroke-width="1.7"/>
<line x1="428.03" y1="1340.70" x2="428.03" y2="1328.60" stroke-width="1.7"/>
<line x1="428.03" y1="962.50" x2="428.03" y2="974.60" stroke-width="1.7"/>
<line x1="445.43" y1="1340.70" x2="445.43" y2="1316.40" stroke-width="1.7"/>
<line x1="445.43" y1="962.50" x2="445.43" y2="986.80" stroke-width="1.7"/>
<line x1="462.83" y1="1340.70" x2="462.83" y2="1328.60" stroke-width="1.7"/>
<line x1="462.83" y1="962.50" x2="462.83" y2="974.60" stroke-width="1.7"/>
<line x1="480.24" y1="1340.70" x2="480.24" y2="1328.60" stroke-width="1.7"/>
<line x1="480.24" y1="962.50" x2="480.24" y2="974.60" stroke-width="1.7"/>
<line x1="497.64" y1="1340.70" x2="497.64" y2="1328.60" stroke-width="1.7"/>
<line x1="497.64" y1="962.50" x2="497.64" y2="974.60" stroke-width="1.7"/>
<line x1="515.05" y1="1340.70" x2="515.05" y2="1328.60" stroke-width="1.7"/>
<line x1="515.05" y1="962.50" x2="515.05" y2="974.60" stroke-width="1.7"/>
<line x1="97.35" y1="1309.18" x2="109.45" y2="1309.18" stroke-width="1.7"/>
<line x1="532.45" y1="1309.18" x2="520.35" y2="1309.18" stroke-width="1.7"/>
<line x1="97.35" y1="1277.67" x2="109.45" y2="1277.67" stroke-width="1.7"/>
<line x1="532.45" y1="1277.67" x2="520.35" y2="1277.67" stroke-width="1.7"/>
<line x1="97.35" y1="1246.15" x2="109.45" y2="1246.15" stroke-width="1.7"/>
<line x1="532.45" y1="1246.15" x2="520.35" y2="1246.15" stroke-width="1.7"/>
<line x1="97.35" y1="1214.63" x2="121.65" y2="1214.63" stroke-width="1.7"/>
<line x1="532.45" y1="1214.63" x2="508.15" y2="1214.63" stroke-width="1.7"/>
<line x1="97.35" y1="1183.12" x2="109.45" y2="1183.12" stroke-width="1.7"/>
<line x1="532.45" y1="1183.12" x2="520.35" y2="1183.12" stroke-width="1.7"/>
<line x1="97.35" y1="1151.60" x2="109.45" y2="1151.60" stroke-width="1.7"/>
<line x1="532.45" y1="1151.60" x2="520.35" y2="1151.60" stroke-width="1.7"/>
<line x1="97.35" y1="1120.08" x2="109.45" y2="1120.08" stroke-width="1.7"/>
<line x1="532.45" y1="1120.08" x2="520.35" y2="1120.08" stroke-width="1.7"/>
<line x1="97.35" y1="1088.57" x2="121.65" y2="1088.57" stroke-width="1.7"/>
<line x1="532.45" y1="1088.57" x2="508.15" y2="1088.57" stroke-width="1.7"/>
<line x1="97.35" y1="1057.05" x2="109.45" y2="1057.05" stroke-width="1.7"/>
<line x1="532.45" y1="1057.05" x2="520.35" y2="1057.05" stroke-width="1.7"/>
<line x1="97.35" y1="1025.53" x2="109.45" y2="1025.53" stroke-width="1.7"/>
<line x1="532.45" y1="1025.53" x2="520.35" y2="1025.53" stroke-width="1.7"/>
<line x1="97.35" y1="994.02" x2="109.45" y2="994.02" stroke-width="1.7"/>
<line x1="532.45" y1="994.02" x2="520.35" y2="994.02" stroke-width="1.7"/>
<path d="M119.11,1340.70 L119.11,1317.70 L162.62,1317.70 L162.62,1263.70 L206.12,1263.70 L206.12,1235.70 L249.63,1235.70 L249.63,1216.70 L293.15,1216.70 L293.15,1225.25 L336.65,1225.25 L336.65,1244.30 L380.16,1244.30 L380.16,1289.80 L423.68,1289.80 L423.68,1310.70 L467.19,1310.70 L467.19,1331.70 L510.70,1331.70 L510.70,1340.70" fill="none" stroke-width="1.7" stroke-linejoin="miter"/>
<path d="M249.63,1224.84L257.77,1216.70M249.63,1234.34L267.28,1216.70M249.63,1243.85L276.78,1216.70M249.63,1253.35L286.29,1216.70M249.63,1262.86L293.15,1219.35M249.63,1272.37L293.15,1228.86M249.63,1281.87L293.15,1238.36M249.63,1291.38L293.15,1247.87M249.63,1300.88L293.15,1257.37M249.63,1310.39L293.15,1266.88M249.63,1319.89L293.15,1276.38M249.63,1329.40L293.15,1285.89M249.63,1338.91L293.15,1295.40M257.35,1340.70L293.15,1304.90M266.85,1340.70L293.15,1314.41M276.36,1340.70L293.15,1323.91M285.87,1340.70L293.15,1333.42" stroke-width="1.6" stroke-linecap="butt"/>
<rect x="249.63" y="1216.70" width="43.51" height="124.00" fill="none" stroke-width="1.7"/>
<rect x="97.35" y="962.50" width="435.10" height="378.20" fill="none" stroke-width="1.7"/>
<text transform="translate(86.29,1372.90) scale(1.12,1)" font-size="24.5" stroke-width="0.3" dx="0.00 0.71">.3</text>
<text transform="translate(172.99,1372.90) scale(1.12,1)" font-size="24.5" stroke-width="0.3" dx="0.00 0.71">.4</text>
<text transform="translate(260.33,1372.90) scale(1.12,1)" font-size="24.5" stroke-width="0.3" dx="0.00 0.71">.5</text>
<text transform="translate(347.23,1372.90) scale(1.12,1)" font-size="24.5" stroke-width="0.3" dx="0.00 0.71">.6</text>
<text transform="translate(434.23,1372.90) scale(1.12,1)" font-size="24.5" stroke-width="0.3" dx="0.00 0.71">.7</text>
<text transform="translate(521.38,1372.90) scale(1.12,1)" font-size="24.5" stroke-width="0.3" dx="0.00 0.71">.8</text>
<text transform="translate(71.17,1348.20) scale(1.12,1)" font-size="24.5" stroke-width="0.3">0</text>
<text transform="translate(63.98,1222.13) scale(1.12,1)" font-size="24.5" stroke-width="0.3" dx="0.00 0.71">.2</text>
<text transform="translate(62.91,1096.07) scale(1.12,1)" font-size="24.5" stroke-width="0.3" dx="0.00 0.71">.4</text>
<text transform="translate(63.29,970.00) scale(1.12,1)" font-size="24.5" stroke-width="0.3" dx="0.00 0.71">.6</text>
<line x1="707.49" y1="1340.70" x2="707.49" y2="1328.60" stroke-width="1.7"/>
<line x1="707.49" y1="962.50" x2="707.49" y2="974.60" stroke-width="1.7"/>
<line x1="724.87" y1="1340.70" x2="724.87" y2="1328.60" stroke-width="1.7"/>
<line x1="724.87" y1="962.50" x2="724.87" y2="974.60" stroke-width="1.7"/>
<line x1="742.25" y1="1340.70" x2="742.25" y2="1316.40" stroke-width="1.7"/>
<line x1="742.25" y1="962.50" x2="742.25" y2="986.80" stroke-width="1.7"/>
<line x1="759.63" y1="1340.70" x2="759.63" y2="1328.60" stroke-width="1.7"/>
<line x1="759.63" y1="962.50" x2="759.63" y2="974.60" stroke-width="1.7"/>
<line x1="777.01" y1="1340.70" x2="777.01" y2="1328.60" stroke-width="1.7"/>
<line x1="777.01" y1="962.50" x2="777.01" y2="974.60" stroke-width="1.7"/>
<line x1="794.39" y1="1340.70" x2="794.39" y2="1328.60" stroke-width="1.7"/>
<line x1="794.39" y1="962.50" x2="794.39" y2="974.60" stroke-width="1.7"/>
<line x1="811.77" y1="1340.70" x2="811.77" y2="1328.60" stroke-width="1.7"/>
<line x1="811.77" y1="962.50" x2="811.77" y2="974.60" stroke-width="1.7"/>
<line x1="829.15" y1="1340.70" x2="829.15" y2="1316.40" stroke-width="1.7"/>
<line x1="829.15" y1="962.50" x2="829.15" y2="986.80" stroke-width="1.7"/>
<line x1="846.53" y1="1340.70" x2="846.53" y2="1328.60" stroke-width="1.7"/>
<line x1="846.53" y1="962.50" x2="846.53" y2="974.60" stroke-width="1.7"/>
<line x1="863.91" y1="1340.70" x2="863.91" y2="1328.60" stroke-width="1.7"/>
<line x1="863.91" y1="962.50" x2="863.91" y2="974.60" stroke-width="1.7"/>
<line x1="881.29" y1="1340.70" x2="881.29" y2="1328.60" stroke-width="1.7"/>
<line x1="881.29" y1="962.50" x2="881.29" y2="974.60" stroke-width="1.7"/>
<line x1="898.67" y1="1340.70" x2="898.67" y2="1328.60" stroke-width="1.7"/>
<line x1="898.67" y1="962.50" x2="898.67" y2="974.60" stroke-width="1.7"/>
<line x1="916.05" y1="1340.70" x2="916.05" y2="1316.40" stroke-width="1.7"/>
<line x1="916.05" y1="962.50" x2="916.05" y2="986.80" stroke-width="1.7"/>
<line x1="933.43" y1="1340.70" x2="933.43" y2="1328.60" stroke-width="1.7"/>
<line x1="933.43" y1="962.50" x2="933.43" y2="974.60" stroke-width="1.7"/>
<line x1="950.81" y1="1340.70" x2="950.81" y2="1328.60" stroke-width="1.7"/>
<line x1="950.81" y1="962.50" x2="950.81" y2="974.60" stroke-width="1.7"/>
<line x1="968.19" y1="1340.70" x2="968.19" y2="1328.60" stroke-width="1.7"/>
<line x1="968.19" y1="962.50" x2="968.19" y2="974.60" stroke-width="1.7"/>
<line x1="985.57" y1="1340.70" x2="985.57" y2="1328.60" stroke-width="1.7"/>
<line x1="985.57" y1="962.50" x2="985.57" y2="974.60" stroke-width="1.7"/>
<line x1="1002.95" y1="1340.70" x2="1002.95" y2="1316.40" stroke-width="1.7"/>
<line x1="1002.95" y1="962.50" x2="1002.95" y2="986.80" stroke-width="1.7"/>
<line x1="1020.33" y1="1340.70" x2="1020.33" y2="1328.60" stroke-width="1.7"/>
<line x1="1020.33" y1="962.50" x2="1020.33" y2="974.60" stroke-width="1.7"/>
<line x1="1037.71" y1="1340.70" x2="1037.71" y2="1328.60" stroke-width="1.7"/>
<line x1="1037.71" y1="962.50" x2="1037.71" y2="974.60" stroke-width="1.7"/>
<line x1="1055.09" y1="1340.70" x2="1055.09" y2="1328.60" stroke-width="1.7"/>
<line x1="1055.09" y1="962.50" x2="1055.09" y2="974.60" stroke-width="1.7"/>
<line x1="1072.47" y1="1340.70" x2="1072.47" y2="1328.60" stroke-width="1.7"/>
<line x1="1072.47" y1="962.50" x2="1072.47" y2="974.60" stroke-width="1.7"/>
<line x1="1089.85" y1="1340.70" x2="1089.85" y2="1316.40" stroke-width="1.7"/>
<line x1="1089.85" y1="962.50" x2="1089.85" y2="986.80" stroke-width="1.7"/>
<line x1="1107.23" y1="1340.70" x2="1107.23" y2="1328.60" stroke-width="1.7"/>
<line x1="1107.23" y1="962.50" x2="1107.23" y2="974.60" stroke-width="1.7"/>
<line x1="1124.61" y1="1340.70" x2="1124.61" y2="1328.60" stroke-width="1.7"/>
<line x1="1124.61" y1="962.50" x2="1124.61" y2="974.60" stroke-width="1.7"/>
<line x1="698.80" y1="1309.18" x2="710.90" y2="1309.18" stroke-width="1.7"/>
<line x1="1133.30" y1="1309.18" x2="1121.20" y2="1309.18" stroke-width="1.7"/>
<line x1="698.80" y1="1277.67" x2="710.90" y2="1277.67" stroke-width="1.7"/>
<line x1="1133.30" y1="1277.67" x2="1121.20" y2="1277.67" stroke-width="1.7"/>
<line x1="698.80" y1="1246.15" x2="710.90" y2="1246.15" stroke-width="1.7"/>
<line x1="1133.30" y1="1246.15" x2="1121.20" y2="1246.15" stroke-width="1.7"/>
<line x1="698.80" y1="1214.63" x2="723.10" y2="1214.63" stroke-width="1.7"/>
<line x1="1133.30" y1="1214.63" x2="1109.00" y2="1214.63" stroke-width="1.7"/>
<line x1="698.80" y1="1183.12" x2="710.90" y2="1183.12" stroke-width="1.7"/>
<line x1="1133.30" y1="1183.12" x2="1121.20" y2="1183.12" stroke-width="1.7"/>
<line x1="698.80" y1="1151.60" x2="710.90" y2="1151.60" stroke-width="1.7"/>
<line x1="1133.30" y1="1151.60" x2="1121.20" y2="1151.60" stroke-width="1.7"/>
<line x1="698.80" y1="1120.08" x2="710.90" y2="1120.08" stroke-width="1.7"/>
<line x1="1133.30" y1="1120.08" x2="1121.20" y2="1120.08" stroke-width="1.7"/>
<line x1="698.80" y1="1088.57" x2="723.10" y2="1088.57" stroke-width="1.7"/>
<line x1="1133.30" y1="1088.57" x2="1109.00" y2="1088.57" stroke-width="1.7"/>
<line x1="698.80" y1="1057.05" x2="710.90" y2="1057.05" stroke-width="1.7"/>
<line x1="1133.30" y1="1057.05" x2="1121.20" y2="1057.05" stroke-width="1.7"/>
<line x1="698.80" y1="1025.53" x2="710.90" y2="1025.53" stroke-width="1.7"/>
<line x1="1133.30" y1="1025.53" x2="1121.20" y2="1025.53" stroke-width="1.7"/>
<line x1="698.80" y1="994.02" x2="710.90" y2="994.02" stroke-width="1.7"/>
<line x1="1133.30" y1="994.02" x2="1121.20" y2="994.02" stroke-width="1.7"/>
<path d="M850.88,1340.70 L850.88,1310.70 L894.32,1310.70 L894.32,1167.70 L937.77,1167.70 L937.77,1115.25 L981.22,1115.25 L981.22,1193.70 L1024.67,1193.70 L1024.67,1289.80 L1068.12,1289.80 L1068.12,1337.10 L1111.57,1337.10 L1111.57,1340.70" fill="none" stroke-width="1.7" stroke-linejoin="miter"/>
<path d="M981.22,1196.40L983.92,1193.70M981.22,1205.91L993.43,1193.70M981.22,1215.41L1002.94,1193.70M981.22,1224.92L1012.44,1193.70M981.22,1234.42L1021.95,1193.70M981.22,1243.93L1024.67,1200.48M981.22,1253.43L1024.67,1209.98M981.22,1262.94L1024.67,1219.49M981.22,1272.45L1024.67,1229.00M981.22,1281.95L1024.67,1238.50M981.22,1291.46L1024.67,1248.01M981.22,1300.97L1024.67,1257.52M981.22,1310.47L1024.67,1267.02M981.22,1319.98L1024.67,1276.53M981.22,1329.48L1024.67,1286.03M981.22,1338.99L1024.67,1295.54M989.02,1340.70L1024.67,1305.05M998.53,1340.70L1024.67,1314.55M1008.03,1340.70L1024.67,1324.06M1017.54,1340.70L1024.67,1333.56" stroke-width="1.6" stroke-linecap="butt"/>
<rect x="981.22" y="1193.70" width="43.45" height="147.00" fill="none" stroke-width="1.7"/>
<rect x="698.80" y="962.50" width="434.50" height="378.20" fill="none" stroke-width="1.7"/>
<text transform="translate(731.41,1372.90) scale(1.12,1)" font-size="24.5" stroke-width="0.3" dx="0.00 0.71">.2</text>
<text transform="translate(818.09,1372.90) scale(1.12,1)" font-size="24.5" stroke-width="0.3" dx="0.00 0.71">.3</text>
<text transform="translate(904.67,1372.90) scale(1.12,1)" font-size="24.5" stroke-width="0.3" dx="0.00 0.71">.4</text>
<text transform="translate(991.89,1372.90) scale(1.12,1)" font-size="24.5" stroke-width="0.3" dx="0.00 0.71">.5</text>
<text transform="translate(1078.67,1372.90) scale(1.12,1)" font-size="24.5" stroke-width="0.3" dx="0.00 0.71">.6</text>
<text transform="translate(672.62,1348.20) scale(1.12,1)" font-size="24.5" stroke-width="0.3">0</text>
<text transform="translate(665.43,1222.13) scale(1.12,1)" font-size="24.5" stroke-width="0.3" dx="0.00 0.71">.2</text>
<text transform="translate(664.36,1096.07) scale(1.12,1)" font-size="24.5" stroke-width="0.3" dx="0.00 0.71">.4</text>
<text transform="translate(664.74,970.00) scale(1.12,1)" font-size="24.5" stroke-width="0.3" dx="0.00 0.71">.6</text>
<text transform="translate(249.99,444.90) scale(0.855,1)" font-size="26.41" stroke-width="0.3">T</text>
<text transform="translate(264.15,448.50) scale(0.837,1)" font-size="19.70" stroke-width="0.7">1</text>
<text transform="translate(288.30,443.52) scale(0.918,1)" font-size="27.12" stroke-width="0.3">(</text>
<text transform="translate(298.95,444.80) scale(0.926,1)" font-size="25.15" stroke-width="0.3">1</text>
<text transform="translate(314.15,444.85) scale(0.987,1)" font-size="25.33" stroke-width="0.3">0</text>
<text transform="translate(328.89,428.85) scale(1.139,1)" font-size="14.88" stroke-width="0.7">3</text>
<text transform="translate(352.17,444.80) scale(0.976,1)" font-size="25.95" stroke-width="0.3">K</text>
<text transform="translate(370.42,443.52) scale(0.904,1)" font-size="27.12" stroke-width="0.3">)</text>
<text transform="translate(851.81,444.90) scale(0.815,1)" font-size="26.41" stroke-width="0.3">T</text>
<text transform="translate(866.07,448.29) scale(0.981,1)" font-size="20.58" stroke-width="0.7">s</text>
<text transform="translate(889.75,443.52) scale(0.918,1)" font-size="27.12" stroke-width="0.3">(</text>
<text transform="translate(900.40,444.80) scale(0.926,1)" font-size="25.15" stroke-width="0.3">1</text>
<text transform="translate(915.60,444.85) scale(0.987,1)" font-size="25.33" stroke-width="0.3">0</text>
<text transform="translate(930.34,428.85) scale(1.139,1)" font-size="14.88" stroke-width="0.7">3</text>
<text transform="translate(953.62,444.80) scale(0.976,1)" font-size="25.95" stroke-width="0.3">K</text>
<text transform="translate(971.87,443.52) scale(0.904,1)" font-size="27.12" stroke-width="0.3">)</text>
<text transform="translate(250.09,921.60) scale(0.855,1)" font-size="26.41" stroke-width="0.3">T</text>
<text transform="translate(264.73,924.98) scale(0.723,1)" font-size="22.02" stroke-width="0.3">d</text>
<text transform="translate(288.30,920.22) scale(0.918,1)" font-size="27.12" stroke-width="0.3">(</text>
<text transform="translate(298.95,921.50) scale(0.926,1)" font-size="25.15" stroke-width="0.3">1</text>
<text transform="translate(314.15,921.55) scale(0.987,1)" font-size="25.33" stroke-width="0.3">0</text>
<text transform="translate(328.89,905.55) scale(1.139,1)" font-size="14.88" stroke-width="0.7">3</text>
<text transform="translate(352.17,921.50) scale(0.976,1)" font-size="25.95" stroke-width="0.3">K</text>
<text transform="translate(370.42,920.22) scale(0.904,1)" font-size="27.12" stroke-width="0.3">)</text>
<text transform="translate(867.78,921.10) scale(0.891,1)" font-size="23.97" stroke-width="0.3">R</text>
<text transform="translate(884.51,924.39) scale(0.763,1)" font-size="21.45" stroke-width="0.3">d</text>
<text transform="translate(909.17,920.75) scale(0.864,1)" font-size="27.01" stroke-width="0.3">(</text>
<text transform="translate(918.61,921.10) scale(0.989,1)" font-size="23.97" stroke-width="0.3">R</text>
<text transform="translate(935.66,924.60) scale(0.893,1)" font-size="16.95" stroke-width="0.7">L</text>
<text transform="translate(944.10,924.60) scale(0.946,1)" font-size="16.82" stroke-width="0.7">1</text>
<text transform="translate(954.08,920.75) scale(0.951,1)" font-size="27.01" stroke-width="0.3">)</text>
<text transform="translate(306.69,1396.75) scale(1.094,1)" font-size="24.69" stroke-width="0.7" font-style="italic">α</text>
<text transform="translate(880.72,1396.78) scale(0.919,1)" font-size="29.22" stroke-width="0.3">(</text>
<text transform="translate(890.93,1396.83) scale(0.951,1)" font-size="24.47" stroke-width="0.3">B</text>
<text transform="translate(924.94,1396.74) scale(0.981,1)" font-size="24.33" stroke-width="0.3">V</text>
<text transform="translate(942.57,1396.78) scale(0.999,1)" font-size="29.22" stroke-width="0.3">)</text>
<line x1="908.70" y1="1389.40" x2="923.00" y2="1389.40" stroke-width="1.8"/>
<path transform="translate(6.05,198.55)" d="M-5.2,-5.4 L-1.8,-4.4 L0.6,-3.3 L1.6,-2.3 L2.6,-0.8 L4.6,1.9 L6.0,5.0 L0.5,3.9 L-5.1,2.85 L-5.3,5.85" fill="none" stroke-width="1.9" stroke-linejoin="round"/>
<path transform="translate(607.50,198.55)" d="M-5.2,-5.4 L-1.8,-4.4 L0.6,-3.3 L1.6,-2.3 L2.6,-0.8 L4.6,1.9 L6.0,5.0 L0.5,3.9 L-5.1,2.85 L-5.3,5.85" fill="none" stroke-width="1.9" stroke-linejoin="round"/>
<path transform="translate(6.05,675.35)" d="M-5.2,-5.4 L-1.8,-4.4 L0.6,-3.3 L1.6,-2.3 L2.6,-0.8 L4.6,1.9 L6.0,5.0 L0.5,3.9 L-5.1,2.85 L-5.3,5.85" fill="none" stroke-width="1.9" stroke-linejoin="round"/>
<path transform="translate(607.50,675.35)" d="M-5.2,-5.4 L-1.8,-4.4 L0.6,-3.3 L1.6,-2.3 L2.6,-0.8 L4.6,1.9 L6.0,5.0 L0.5,3.9 L-5.1,2.85 L-5.3,5.85" fill="none" stroke-width="1.9" stroke-linejoin="round"/>
<path transform="translate(6.05,1151.60)" d="M-5.2,-5.4 L-1.8,-4.4 L0.6,-3.3 L1.6,-2.3 L2.6,-0.8 L4.6,1.9 L6.0,5.0 L0.5,3.9 L-5.1,2.85 L-5.3,5.85" fill="none" stroke-width="1.9" stroke-linejoin="round"/>
<path transform="translate(607.50,1151.60)" d="M-5.2,-5.4 L-1.8,-4.4 L0.6,-3.3 L1.6,-2.3 L2.6,-0.8 L4.6,1.9 L6.0,5.0 L0.5,3.9 L-5.1,2.85 L-5.3,5.85" fill="none" stroke-width="1.9" stroke-linejoin="round"/>
</g>
</svg>
</body></html>
